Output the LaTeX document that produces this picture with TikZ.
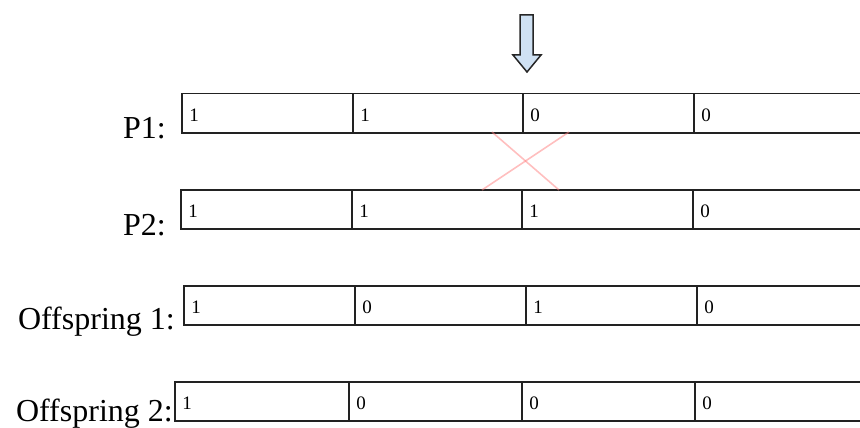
\documentclass[tikz,border=0pt]{standalone}
\usepackage{fontspec}
\setmainfont{Liberation Serif}
\definecolor{arrowfill}{HTML}{CFE1F3}
\definecolor{cellline}{HTML}{222222}
\definecolor{crossred}{HTML}{FF8080}
\tikzset{
  cell/.style={draw=cellline, line width=1.5pt, anchor=north west,
    minimum height=39pt, inner xsep=7.5pt, inner ysep=0pt, align=left,
    text height=16pt, text depth=0pt, font=\fontsize{19}{21}\selectfont},
  rowlabel/.style={anchor=base east, inner sep=0pt,
    font=\fontsize{32}{36}\selectfont},
  crossline/.style={draw=crossred, line width=1.6pt, opacity=0.5}
}
\begin{document}
\begin{tikzpicture}[x=1pt,y=-1pt]
  \useasboundingbox (0,0) rectangle (860,428);
  \clip (0,0) rectangle (860,428);

  % downward block arrow
  \draw[fill=arrowfill, draw=black!85, line width=1.5pt, line join=miter]
    (520,15) -- (533,15) -- (533,55) -- (541,55) -- (527,72)
    -- (513,55) -- (520,55) -- cycle;

  % parent 1
  \node[rowlabel] (lp1) at (166,139) {P1:};
  \node[cell, text width=156pt] (p1a) at (181,93) {1};
  \node[cell, text width=155pt] (p1b) at (352,93) {1};
  \node[cell, text width=156pt] (p1c) at (522,93) {0};
  \node[cell, text width=180pt] (p1d) at (693,93) {0};

  % parent 2
  \node[rowlabel] (lp2) at (166,235) {P2:};
  \node[cell, text width=156pt] (p2a) at (180,189) {1};
  \node[cell, text width=155pt] (p2b) at (351,189) {1};
  \node[cell, text width=156pt] (p2c) at (521,189) {1};
  \node[cell, text width=180pt] (p2d) at (692,189) {0};

  % crossover mark between the parents
  \coordinate (xa) at (492,132);
  \coordinate (xb) at (559,190);
  \coordinate (xc) at (569,132);
  \coordinate (xd) at (482,190);
  \draw[crossline] (xa) -- (xb);
  \draw[crossline] (xc) -- (xd);

  % offspring 1
  \node[rowlabel] (lo1) at (175,329) {Offspring 1:};
  \node[cell, text width=156pt] (o1a) at (183,285) {1};
  \node[cell, text width=156pt] (o1b) at (354,285) {0};
  \node[cell, text width=156pt] (o1c) at (525,285) {1};
  \node[cell, text width=180pt] (o1d) at (696,285) {0};

  % offspring 2
  \node[rowlabel] (lo2) at (173,421) {Offspring 2:};
  \node[cell, text width=159pt] (o2a) at (174,381) {1};
  \node[cell, text width=158pt] (o2b) at (348,381) {0};
  \node[cell, text width=158pt] (o2c) at (521,381) {0};
  \node[cell, text width=180pt] (o2d) at (694,381) {0};
\end{tikzpicture}
\end{document}
